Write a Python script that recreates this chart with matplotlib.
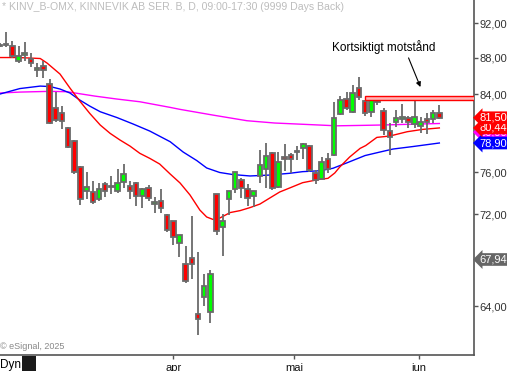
import matplotlib
matplotlib.use("Agg")
import matplotlib.pyplot as plt
from matplotlib.ticker import FixedLocator, FuncFormatter, NullLocator
from matplotlib.patches import Rectangle

plt.rcParams["font.family"] = ["Liberation Sans", "DejaVu Sans"]

# daglig OHLC, KINV B (sista 72 handelsdagarna)
opens = [89.53, 89.49, 89.41, 87.71, 88.39, 87.83, 86.70, 87.10, 85.15, 82.49,
         82.05, 80.40, 79.10, 76.55, 74.14, 74.06, 73.40, 74.82, 74.52, 74.21,
         75.08, 74.66, 74.92, 73.74, 74.44, 72.98, 73.24, 71.90, 71.35, 69.37,
         67.55, 68.04, 63.35, 64.77, 63.53, 73.88, 70.86, 73.38, 74.35, 75.22,
         74.38, 73.74, 75.59, 76.28, 77.86, 74.60, 77.49, 77.66, 77.99, 78.36,
         78.59, 75.89, 75.37, 77.32, 77.69, 81.86, 83.45, 82.07, 84.63, 83.30,
         82.07, 83.45, 82.26, 80.15, 81.03, 81.40, 81.43, 80.84, 80.64, 81.33,
         81.33, 82.00]
highs = [89.70, 90.98, 89.93, 89.36, 89.82, 88.62, 87.38, 87.65, 85.65, 84.23,
         82.73, 80.53, 79.20, 76.65, 76.06, 75.14, 74.95, 75.02, 75.60, 76.28,
         76.80, 75.14, 75.08, 74.47, 74.76, 73.59, 74.35, 72.00, 71.38, 70.11,
         69.13, 71.84, 68.62, 66.69, 67.03, 73.91, 72.02, 74.18, 76.02, 75.43,
         74.86, 74.23, 78.19, 78.90, 78.04, 78.02, 78.77, 77.86, 78.59, 78.85,
         78.69, 76.21, 77.52, 77.92, 83.19, 83.80, 84.27, 85.00, 85.90, 83.37,
         83.66, 83.55, 82.49, 80.91, 82.36, 82.94, 81.68, 83.55, 81.60, 81.96,
         82.31, 82.84]
lows = [89.24, 89.24, 88.05, 87.49, 87.71, 86.99, 85.87, 85.76, 80.89, 81.05,
        80.38, 78.36, 75.79, 72.86, 73.40, 72.95, 73.21, 73.65, 73.90, 73.97,
        74.50, 73.40, 72.76, 72.60, 73.26, 72.14, 72.14, 70.41, 69.21, 68.13,
        65.89, 66.28, 61.67, 64.00, 62.64, 70.11, 68.24, 71.93, 74.03, 73.52,
        72.81, 72.64, 74.92, 74.50, 74.28, 74.44, 76.14, 75.89, 77.19, 77.26,
        76.02, 74.86, 75.31, 75.89, 77.64, 81.78, 82.31, 82.05, 83.37, 81.68,
        81.60, 82.84, 79.71, 77.69, 80.56, 80.91, 80.40, 80.43, 79.88, 79.81,
        80.91, 81.42]
closes = [89.41, 89.61, 88.28, 88.17, 88.56, 87.49, 86.93, 86.60, 80.99, 81.23,
          81.21, 78.52, 75.98, 73.43, 74.52, 73.11, 74.35, 74.19, 74.62, 74.92,
          75.79, 74.16, 73.69, 74.35, 73.52, 73.17, 72.55, 70.56, 69.96, 70.08,
          66.13, 67.57, 62.97, 65.66, 66.69, 70.51, 71.42, 74.18, 75.99, 74.44,
          73.49, 74.16, 76.70, 77.57, 74.47, 76.99, 77.26, 77.26, 78.12, 78.77,
          76.21, 75.24, 76.97, 76.28, 81.44, 83.37, 82.49, 84.09, 83.66, 81.96,
          83.53, 83.12, 80.22, 79.47, 81.49, 81.54, 81.08, 81.54, 81.05, 81.08,
          81.96, 81.50]

# glidande medelvärden, avlästa vid ett urval av dagar
ma_red_x = [0, 3, 6.5, 7.6, 9.7, 11.3, 12.9, 14.5, 16.2, 17.8, 19.4, 21, 22.6,
            24.2, 25.8, 27.5, 29.1, 30.7, 32.3, 33.4, 34.4, 35.5, 37.2, 38.8,
            40.4, 42, 43.6, 45.2, 46.8, 48.9, 51.7, 53, 54.1, 54.9, 56.5, 58.2,
            59.1, 60.9, 63, 65.8, 68.3, 71]
ma_red = [88.05, 88.05, 87.94, 87.43, 86.20, 84.67, 83.26, 81.96, 80.74, 79.88,
          79.20, 78.59, 77.86, 77.36, 76.80, 75.82, 74.95, 73.81, 72.39, 71.75,
          71.53, 71.65, 72.16, 72.34, 72.62, 72.95, 73.52, 74.09, 74.47, 74.98,
          75.31, 75.40, 75.92, 76.50, 77.49, 78.36, 78.64, 79.47, 79.61, 80.05,
          80.29, 80.44]
ma_blue_x = [0, 3.2, 6.5, 8.1, 9.7, 11.3, 12.9, 14.5, 16.2, 18.9, 21.5, 24.2,
             27.5, 29.6, 31.8, 33.4, 35.5, 37.6, 40.4, 43.6, 46.8, 48.9, 51.7,
             53.8, 56, 59, 61.4, 63.5, 66.7, 71]
ma_blue = [84.02, 84.61, 84.88, 84.83, 84.56, 84.13, 83.37, 82.73, 82.13, 81.52,
           80.85, 80.12, 79.03, 77.99, 77.14, 76.41, 75.97, 75.77, 75.63, 75.72,
           75.89, 76.05, 76.14, 76.38, 76.90, 77.64, 77.99, 78.29, 78.54, 78.90]
ma_mag_x = [0, 3.2, 8.1, 10.8, 15.3, 18.9, 22.6, 27.5, 29.1, 34.4, 39.9, 44.4,
            48.9, 54.4, 59, 61.4, 71]
ma_mag = [84.13, 84.23, 84.31, 84.27, 83.80, 83.48, 83.19, 82.59, 82.38, 81.78,
          81.19, 80.95, 80.82, 80.66, 80.71, 80.74, 80.90]

month_pos = [28, 47.5, 67.7]
month_lbl = ["apr", "mai", "jun"]
ytick_vals = [64, 68, 72, 76, 80, 84, 88, 92]
ytick_hidden = [68, 80]  # täcks av pristaggarna i originalet
resist_lo, resist_hi, resist_start = 83.33, 83.84, 59

W, H = 507, 371
fig = plt.figure(figsize=(W / 100, H / 100), dpi=100)
ax = fig.add_axes([0, 16 / H, 474 / W, 355 / H])

# medelvärden
ax.plot(ma_mag_x, ma_mag, color="#ff00ff", lw=1, zorder=1)
ax.plot(ma_blue_x, ma_blue, color="#0000ff", lw=1, zorder=1)
ax.plot(ma_red_x, ma_red, color="#ff0000", lw=1, zorder=1)

# candlesticks
edge = "#6a6a6a"
for i in range(len(opens)):
    o, h, l, c = opens[i], highs[i], lows[i], closes[i]
    ax.vlines(i, l, h, color=edge, lw=1.3, zorder=2)
    col = "#00ff00" if c >= o else "#ff0000"
    ax.bar(i, abs(c - o), bottom=min(o, c), width=0.74, color=col,
           edgecolor=edge, linewidth=1.3, zorder=3)

# motståndszon
ax.add_patch(Rectangle((resist_start, resist_lo), 80 - resist_start,
                       resist_hi - resist_lo, facecolor="#ffb4b4",
                       edgecolor="#ff0000", lw=1, zorder=4))

ax.set_yscale("log")
ax.set_ylim(60.10, 94.80)
ax.set_xlim(0, 76.6)


def fmt(v, p):
    if round(v) in ytick_hidden:
        return ""
    return f"{v:.2f}".replace(".", ",")


ax.yaxis.tick_right()
ax.yaxis.set_major_locator(FixedLocator(ytick_vals))
ax.yaxis.set_minor_locator(NullLocator())
ax.yaxis.set_major_formatter(FuncFormatter(fmt))
ax.tick_params(axis="y", direction="out", length=3, width=1, pad=1,
               colors="#555555", labelcolor="#333333", labelsize=8)

ax.set_xticks(month_pos)
ax.set_xticklabels(month_lbl)
ax.tick_params(axis="x", direction="out", length=3, width=1, pad=2.5,
               colors="#555555", labelcolor="#111111", labelsize=8)

for s in ["left", "top"]:
    ax.spines[s].set_visible(False)
for s in ["right", "bottom"]:
    ax.spines[s].set_color("#555555")
    ax.spines[s].set_linewidth(1.2)

ytr = ax.get_yaxis_transform()


def price_tag(y, txt, fc, z=0):
    ax.text(1.012, y, txt, transform=ytr, ha="left", va="center",
            color="white", fontsize=8, clip_on=False, zorder=10 + z,
            bbox=dict(boxstyle="larrow,pad=0.12", fc=fc, ec="none"))


price_tag(67.94, "67,94", "#666666")
price_tag(80.00, "80,90", "#ff00ff")
price_tag(78.90, "78,90", "#0000ff", 1)
price_tag(80.44, "80,44", "#ff0000", 2)
price_tag(81.50, "81,50", "#ff0000", 3)

ax.text(0.004, 0.98, "* KINV_B-OMX, KINNEVIK AB SER. B, D, 09:00-17:30 (9999 Days Back)",
        transform=ax.transAxes, ha="left", va="center", color="#bdbdbd", fontsize=7.6)
ax.text(0.0, 0.025, "\u00a9 eSignal, 2025", transform=ax.transAxes,
        ha="left", va="center", color="#888888", fontsize=6.5)

ax.annotate("", xy=(421.5 / 474 * 76.6, 84.5), xytext=(407.5 / 474 * 76.6, 88.3),
            arrowprops=dict(arrowstyle="-|>", color="black", lw=0.8,
                            mutation_scale=7))
ax.text(384 / 474, 1 - 47 / 355, "Kortsiktigt motstånd", transform=ax.transAxes,
        ha="center", va="center", fontsize=8.5, color="black")

fig.text(0, 1 - 365 / H, "Dyn", ha="left", va="center", fontsize=8.5, color="black")
fig.patches.append(Rectangle((22 / W, 0), 14 / W, 15 / H, transform=fig.transFigure,
                             facecolor="#1a1a1a", edgecolor="none"))

fig.savefig("out.png", dpi=100, facecolor="white")
